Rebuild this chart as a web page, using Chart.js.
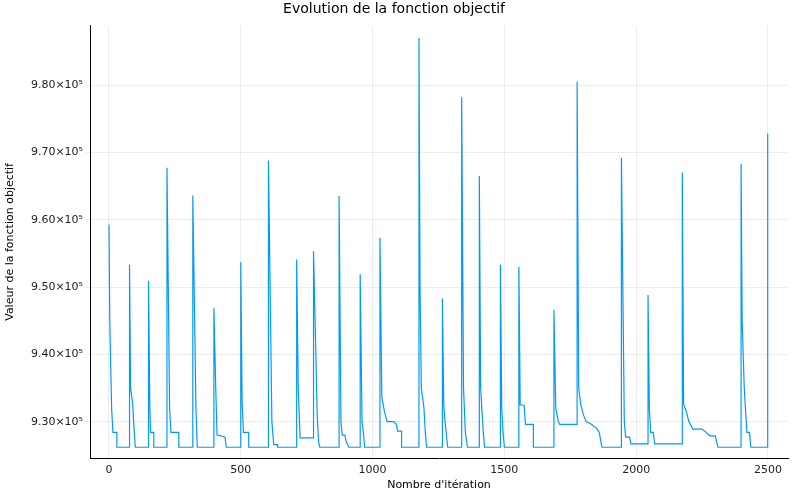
<!DOCTYPE html>
<html>
<head>
<meta charset="utf-8">
<script src="https://cdn.jsdelivr.net/npm/chart.js@4"></script>
<style>
  html, body { margin: 0; padding: 0; background: #fff; }
  #wrap { width: 800px; height: 500px; }
</style>
</head>
<body>
<div id="wrap"><canvas id="objChart"></canvas></div>
<script>
/* ===== Evolution de la fonction objectif ===== */

// iteration / objective value pairs (corner points of each restart)
const iterations = [
  0, 3, 10, 15, 30, 30, 78,
  78, 82, 90, 95, 100, 150,
  150, 155, 158, 170, 170, 220,
  220, 230, 235, 265, 265, 318,
  318, 330, 335, 398,
  398, 405, 410, 425, 440, 445, 500,
  500, 505, 510, 530, 530, 605,
  605, 618, 625, 640, 640, 712,
  712, 718, 725, 776,
  776, 790, 795, 800, 873,
  873, 880, 885, 895, 900, 910, 953,
  953, 960, 965, 970, 1028,
  1028, 1035, 1040, 1045, 1055, 1080, 1090, 1095, 1110, 1110, 1176,
  1176, 1180, 1185, 1195, 1200, 1205, 1265,
  1265, 1270, 1275, 1285, 1338,
  1338, 1345, 1352, 1360, 1405,
  1405, 1410, 1420, 1425, 1485,
  1485, 1490, 1495, 1500, 1555,
  1555, 1560, 1575, 1580, 1610, 1610, 1688,
  1688, 1695, 1705, 1710, 1776,
  1776, 1782, 1790, 1800, 1810, 1830, 1850, 1860, 1870, 1944,
  1944, 1955, 1960, 1975, 1980, 2045,
  2045, 2050, 2055, 2065, 2070, 2175,
  2175, 2180, 2190, 2200, 2215, 2250, 2265, 2280, 2300, 2310, 2398,
  2398, 2402, 2410, 2420, 2430, 2435, 2498,
  2498, 2500
];

const objective = [
  959300, 945000, 932000, 928400, 928400, 926200, 926200,
  953300, 935000, 932700, 929000, 926200, 926200,
  950900, 932000, 928400, 928400, 926200, 926200,
  967700, 932000, 928400, 928400, 926200, 926200,
  963600, 932000, 926200, 926200,
  946900, 935000, 928000, 927900, 927700, 926200, 926200,
  953700, 933000, 928400, 928400, 926200, 926200,
  968800, 930000, 926600, 926600, 926200, 926200,
  954100, 935000, 927600, 927600,
  955300, 931000, 927000, 926200, 926200,
  963500, 930000, 928000, 928000, 927000, 926200, 926200,
  951900, 930000, 928400, 926200, 926200,
  957300, 933600, 932600, 931500, 930000, 930000, 929600, 928600, 928600, 926200, 926200,
  987000, 950000, 935000, 932000, 928400, 926200, 926200,
  948300, 932500, 930000, 926200, 926200,
  978200, 935000, 928400, 926200, 926200,
  966500, 935000, 928400, 926200, 926200,
  953300, 932000, 928400, 926200, 926200,
  953000, 932500, 932400, 929600, 929600, 926200, 926200,
  946600, 932000, 930000, 929600, 929600,
  980500, 935000, 932500, 931000, 930000, 929600, 929000, 928400, 926200, 926200,
  969200, 930000, 927700, 927700, 926700, 926700,
  948800, 932000, 928400, 928400, 926700, 926700,
  967000, 932600, 931500, 930000, 928900, 928900, 928400, 927900, 927900, 926200, 926200,
  968300, 945000, 935000, 928400, 928400, 926200, 926200,
  972800, 970000
];

const xTicks = [0, 500, 1000, 1500, 2000, 2500];
const yTicks = [930000, 940000, 950000, 960000, 970000, 980000];

const FONT = 'DejaVu Sans';
const TICK_COLOR = '#222';

function sciLabel(v) {
  return (v / 1e5).toFixed(2) + '×10⁵';
}

document.addEventListener('DOMContentLoaded', () => {
  const ctx = document.getElementById('objChart').getContext('2d');
  const points = iterations.map((it, i) => ({ x: it, y: objective[i] }));

  new Chart(ctx, {
    type: 'line',
    data: {
      datasets: [{
        data: points,
        borderColor: '#009af9',
        borderWidth: 1.2,
        pointRadius: 0,
        tension: 0,
        fill: false
      }]
    },
    options: {
      responsive: true,
      maintainAspectRatio: false,
      animation: false,
      layout: { padding: { top: 1, right: 12, bottom: 4, left: 0 } },
      plugins: {
        legend: { display: false },
        tooltip: { enabled: false },
        title: {
          display: true,
          text: 'Evolution de la fonction objectif',
          color: '#000',
          font: { family: FONT, size: 14, weight: 'normal' },
          padding: { top: 0, bottom: 8 }
        }
      },
      scales: {
        x: {
          type: 'linear',
          min: -72,
          max: 2576,
          afterBuildTicks: s => { s.ticks = xTicks.map(v => ({ value: v })); },
          afterFit: s => { s.height = 38; },
          ticks: { color: TICK_COLOR, font: { family: FONT, size: 11 }, padding: 2, callback: v => String(v) },
          grid: { color: 'rgba(0,0,0,0.07)', tickLength: 4, drawTicks: true },
          border: { color: '#000', width: 1 },
          title: { display: true, text: "Nombre d'itération", color: '#000',
                   font: { family: FONT, size: 11 }, padding: { top: 0 } }
        },
        y: {
          min: 924600,
          max: 988800,
          afterBuildTicks: s => { s.ticks = yTicks.map(v => ({ value: v })); },
          afterFit: s => { s.width = 90; },
          ticks: { color: TICK_COLOR, font: { family: FONT, size: 11 }, callback: v => sciLabel(v) },
          grid: { color: 'rgba(0,0,0,0.07)', tickLength: 4 },
          border: { color: '#000', width: 1 },
          title: { display: true, text: 'Valeur de la fonction objectif', color: '#000',
                   font: { family: FONT, size: 11 }, padding: { bottom: 0 } }
        }
      }
    }
  });
});
</script>
</body>
</html>
